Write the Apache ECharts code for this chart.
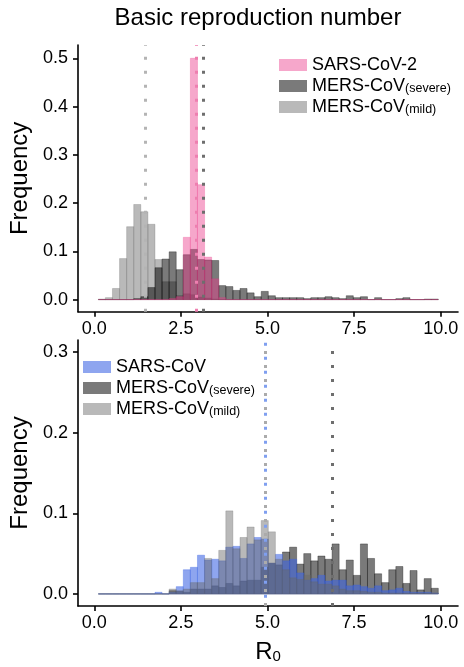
<!DOCTYPE html>
<html>
<head>
<meta charset="utf-8">
<script src="https://cdn.jsdelivr.net/npm/echarts@6/dist/echarts.min.js"></script>
<style>
  html, body { margin: 0; padding: 0; background: #fff; }
  #chart { width: 464px; height: 667px; }
</style>
</head>
<body>
<div id="chart"></div>
<script>
// Common histogram bins: lower edge of the first bin and bin width (R0 units)
const binStart = 0.116;
const binWidth = 0.2045;

// Tick labels
const xTicks = [0, 2.5, 5, 7.5, 10];
const yTicksTop = [0, 0.1, 0.2, 0.3, 0.4, 0.5];
const yTicksBottom = [0, 0.1, 0.2, 0.3];

// Upper panel: relative frequency per bin (48 bins)
const sarsCoV2Top = [
  0, 0, 0, 0, 0, 0, 0, 0, 0, 0,
  0.002, 0.006, 0.129, 0.5, 0.238, 0.088, 0.043, 0.004, 0, 0,
  0, 0, 0, 0, 0, 0, 0, 0, 0, 0,
  0, 0, 0, 0, 0, 0, 0, 0, 0, 0,
  0, 0, 0, 0, 0, 0, 0, 0
];
const mersSevereTop = [
  0, 0, 0, 0, 0, 0.002, 0.006, 0.025, 0.066, 0.084,
  0.099, 0.062, 0.093, 0.104, 0.083, 0.082, 0.081, 0.029, 0.027, 0.019,
  0.023, 0.014, 0.006, 0.017, 0.008, 0.004, 0.004, 0.004, 0.004, 0.002,
  0.004, 0.004, 0.006, 0.004, 0.002, 0.008, 0.004, 0.006, 0, 0.004,
  0, 0, 0.002, 0.004, 0, 0, 0.001, 0.001
];
const mersMildTop = [
  0.001, 0.004, 0.023, 0.085, 0.151, 0.197, 0.182, 0.156, 0.083, 0.037,
  0.037, 0.008, 0.012, 0.010, 0.005, 0.003, 0.001, 0, 0, 0,
  0, 0, 0, 0, 0, 0, 0, 0, 0, 0,
  0, 0, 0, 0, 0, 0, 0, 0, 0, 0,
  0, 0, 0, 0, 0, 0, 0, 0
];

// Lower panel: relative frequency per bin (48 bins)
const sarsCoVBottom = [
  0, 0, 0, 0, 0, 0, 0, 0, 0.002, 0,
  0.002, 0.009, 0.030, 0.033, 0.048, 0.042, 0.043, 0.041, 0.058, 0.059,
  0.044, 0.062, 0.070, 0.068, 0.038, 0.049, 0.041, 0.043, 0.026, 0.017,
  0.019, 0.023, 0.016, 0.017, 0.017, 0.010, 0.011, 0.009, 0.007, 0.010,
  0.004, 0.005, 0.007, 0.003, 0.002, 0.002, 0.002, 0.001
];
const mersSevereBottom = [
  0, 0, 0, 0, 0, 0, 0, 0, 0, 0,
  0.004, 0.003, 0.002, 0.006, 0.006, 0.006, 0.010, 0.008, 0.013, 0.010,
  0.016, 0.017, 0.017, 0.033, 0.038, 0.036, 0.052, 0.058, 0.037, 0.050,
  0.041, 0.047, 0.043, 0.062, 0.030, 0.042, 0.023, 0.062, 0.044, 0.025,
  0.014, 0.030, 0.034, 0.013, 0.029, 0.005, 0.019, 0.007
];
const mersMildBottom = [
  0, 0, 0, 0, 0, 0, 0, 0, 0, 0,
  0.006, 0.004, 0.006, 0.014, 0.014, 0.044, 0.019, 0.054, 0.103, 0.056,
  0.070, 0.083, 0.067, 0.091, 0.077, 0.043, 0.030, 0.020, 0.018, 0.023,
  0.015, 0.012, 0.012, 0.010, 0.006, 0.004, 0.004, 0.003, 0.002, 0.002,
  0.001, 0.001, 0.001, 0.001, 0.001, 0.001, 0.001, 0.001
];

// Mean R0 of each distribution (dotted vertical lines)
const meanSarsCoV2 = 2.94;
const meanMersSevereTop = 3.16;
const meanMersMildTop = 1.46;
const meanSarsCoV = 4.95;
const meanMersSevereBottom = 6.87;
const meanMersMildBottom = 4.93;

const FONT = '"Liberation Sans", Arial, Helvetica, sans-serif';

const COLORS = {
  pink: 'rgba(235,60,140,0.45)',
  dark: 'rgba(0,0,0,0.52)',
  light: 'rgba(103,103,103,0.46)',
  blue: 'rgba(60,100,228,0.58)'
};

function toBins(freq) {
  return freq.map((f, i) => [binStart + i * binWidth, binStart + (i + 1) * binWidth, f]);
}

function renderBar(params, api) {
  const top = api.coord([api.value(0), api.value(2)]);
  const base = api.coord([api.value(1), 0]);
  const color = api.visual('color');
  return {
    type: 'rect',
    shape: { x: top[0], y: top[1], width: base[0] - top[0], height: base[1] - top[1] },
    style: { fill: color, stroke: color, lineWidth: 0.6 }
  };
}

function histSeries(name, freq, color, panel, mean, lineColor, dashOffset) {
  return {
    type: 'custom',
    name: name,
    xAxisIndex: panel,
    yAxisIndex: panel,
    data: toBins(freq),
    encode: { x: [0, 1], y: 2 },
    renderItem: renderBar,
    itemStyle: { color: color },
    silent: true,
    animation: false,
    markLine: {
      silent: true,
      symbol: 'none',
      animation: false,
      label: { show: false },
      lineStyle: { color: lineColor, width: 3, type: [3, 11], dashOffset: dashOffset || 0, cap: 'butt' },
      data: [{ xAxis: mean }]
    }
  };
}

const legendFormatter = name => name.replace(/\((\w+)\)$/, '{sub|($1)}');
const legendText = {
  fontFamily: FONT, fontSize: 18, color: '#000',
  rich: { sub: { fontFamily: FONT, fontSize: 12.5, color: '#000', verticalAlign: 'bottom', padding: [4, 0, 0, 0] } }
};

function xAxisFor(panel, withName) {
  const axis = {
    type: 'value', gridIndex: panel, min: -0.47, max: 10.5,
    axisLine: { onZero: false, lineStyle: { color: '#000', width: 1.6 } },
    axisTick: { customValues: xTicks, length: 5, lineStyle: { color: '#000', width: 1.6 } },
    axisLabel: { customValues: xTicks, formatter: v => v.toFixed(1), color: '#000', fontSize: 18, fontFamily: FONT, margin: 8 },
    splitLine: { show: false }
  };
  if (withName) {
    axis.name = 'R{sub|0}';
    axis.nameLocation = 'middle';
    axis.nameGap = 34;
    axis.nameTextStyle = {
      color: '#000', fontSize: 24, fontFamily: FONT,
      rich: { sub: { fontSize: 15, fontFamily: FONT, color: '#000', verticalAlign: 'bottom', padding: [8, 0, 0, 0] } }
    };
  }
  return axis;
}

function yAxisFor(panel, min, max, ticks) {
  return {
    type: 'value', gridIndex: panel, min: min, max: max,
    name: 'Frequency', nameLocation: 'middle', nameGap: 46,
    nameTextStyle: { color: '#000', fontSize: 24, fontFamily: FONT },
    axisLine: { onZero: false, lineStyle: { color: '#000', width: 1.6 } },
    axisTick: { customValues: ticks, length: 5, lineStyle: { color: '#000', width: 1.6 } },
    axisLabel: { customValues: ticks, formatter: v => v.toFixed(1), color: '#000', fontSize: 18, fontFamily: FONT, margin: 10 },
    splitLine: { show: false }
  };
}

const chart = echarts.init(document.getElementById('chart'), null, { renderer: 'canvas' });
chart.setOption({
  animation: false,
  backgroundColor: '#fff',
  graphic: [{
    type: 'text', x: 258, y: 18,
    style: { text: 'Basic reproduction number', fontFamily: FONT, fontSize: 24, fill: '#000', align: 'center', verticalAlign: 'middle' }
  }],
  grid: [
    { left: 78, width: 380, top: 45, height: 266.7 },
    { left: 78, width: 380, top: 340, height: 266 }
  ],
  xAxis: [xAxisFor(0, false), xAxisFor(1, true)],
  yAxis: [yAxisFor(0, -0.0251, 0.5275, yTicksTop), yAxisFor(1, -0.015, 0.315, yTicksBottom)],
  legend: [
    {
      data: ['SARS-CoV-2', 'MERS-CoV(severe)', 'MERS-CoV(mild)'],
      orient: 'vertical', left: 279, top: 56, padding: 0,
      itemWidth: 28, itemHeight: 12, itemGap: 3, icon: 'rect', selectedMode: false,
      formatter: legendFormatter, textStyle: legendText
    },
    {
      data: ['SARS-CoV', 'MERS-CoV(severe)', 'MERS-CoV(mild)'],
      orient: 'vertical', left: 83, top: 358, padding: 0,
      itemWidth: 28, itemHeight: 12, itemGap: 3, icon: 'rect', selectedMode: false,
      formatter: legendFormatter, textStyle: legendText
    }
  ],
  series: [
    // upper panel: grey distributions underneath, SARS-CoV-2 drawn over them
    histSeries('MERS-CoV(mild)', mersMildTop, COLORS.light, 0, meanMersMildTop, '#b4b4b4'),
    histSeries('MERS-CoV(severe)', mersSevereTop, COLORS.dark, 0, meanMersSevereTop, '#6e6e6e'),
    histSeries('SARS-CoV-2', sarsCoV2Top, COLORS.pink, 0, meanSarsCoV2, '#ee7fb0'),
    // lower panel: severe MERS at the bottom, then SARS-CoV, then mild MERS on top
    histSeries('MERS-CoV(severe)', mersSevereBottom, COLORS.dark, 1, meanMersSevereBottom, '#6e6e6e'),
    histSeries('SARS-CoV', sarsCoVBottom, COLORS.blue, 1, meanSarsCoV, '#7f9ff0', 5.7),
    histSeries('MERS-CoV(mild)', mersMildBottom, COLORS.light, 1, meanMersMildBottom, '#ababab')
  ]
});
</script>
</body>
</html>
